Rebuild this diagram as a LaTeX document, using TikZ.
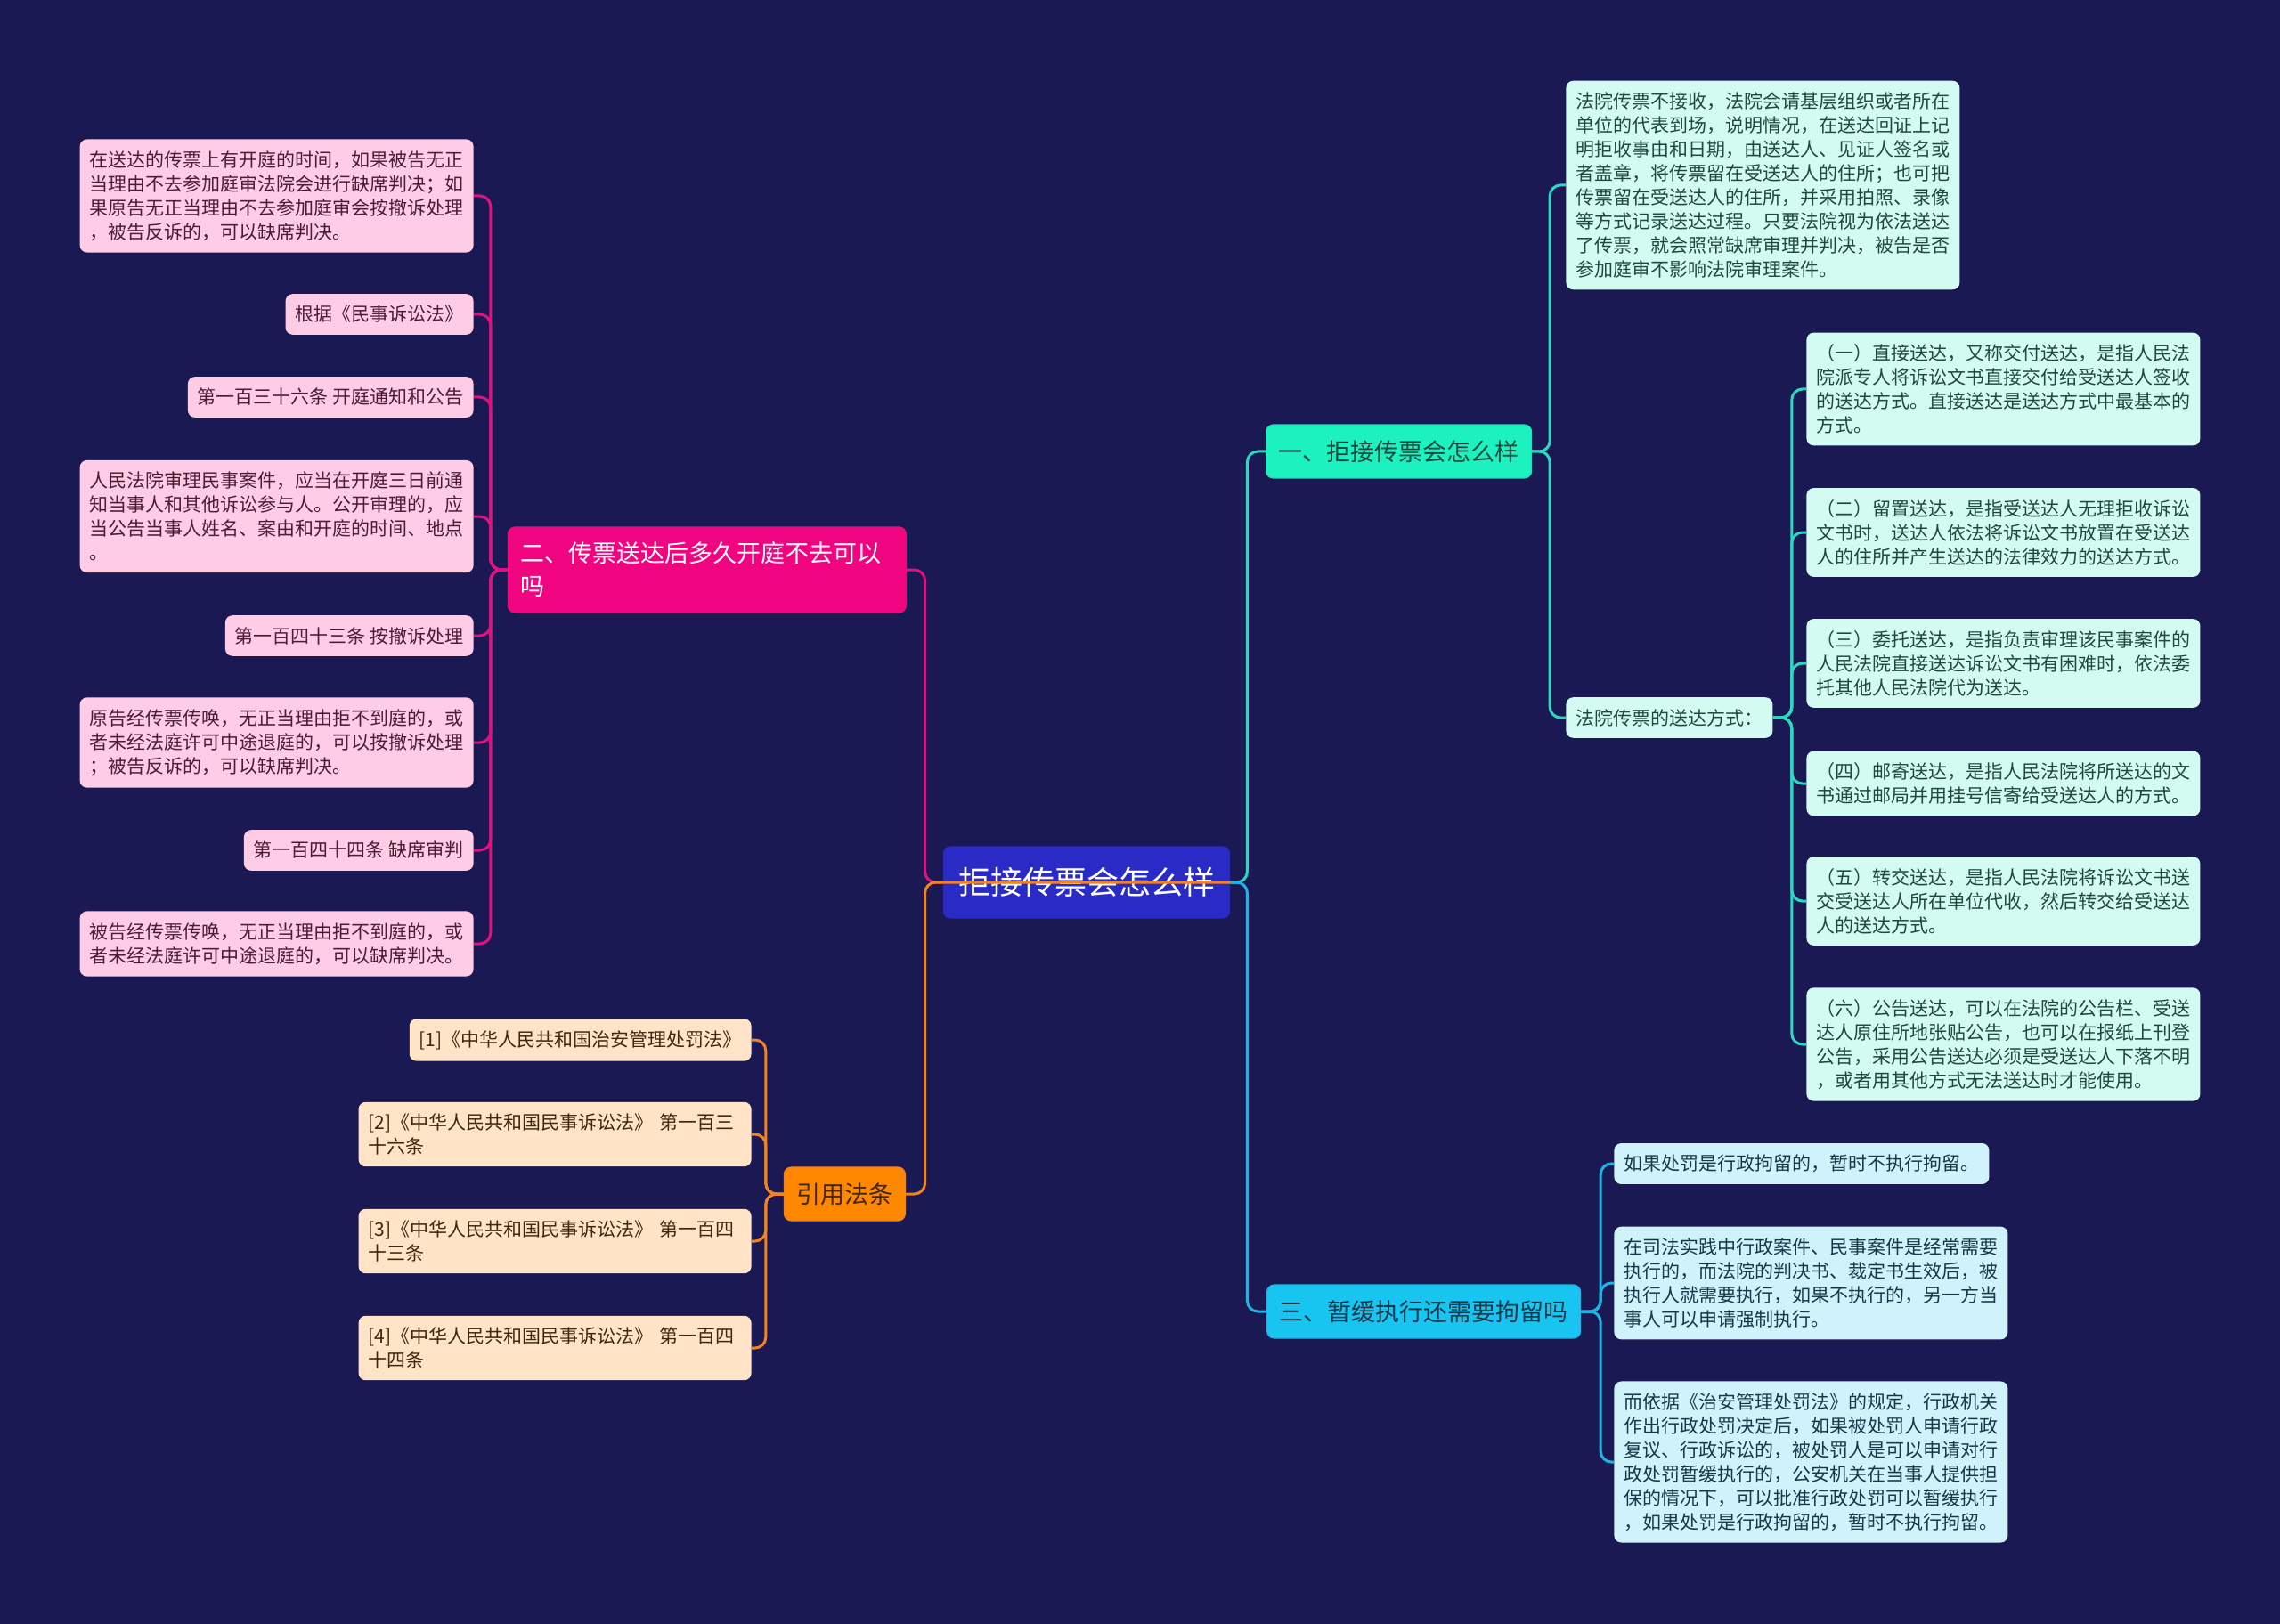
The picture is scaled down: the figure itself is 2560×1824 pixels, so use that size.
\documentclass[tikz,border=0pt]{standalone}
\usepackage{fontspec}
\setmainfont{Noto Sans CJK SC}
\usetikzlibrary{positioning}

\definecolor{bgnavy}{HTML}{1B1953}
\definecolor{rootblue}{HTML}{2A2AC6}
\definecolor{tealfill}{HTML}{1CF2C0}
\definecolor{tealline}{HTML}{2CD9C0}
\definecolor{tealnote}{HTML}{D4FBF2}
\definecolor{tealtext}{HTML}{1D4A40}
\definecolor{pinkfill}{HTML}{F0047F}
\definecolor{pinkline}{HTML}{E0137E}
\definecolor{pinknote}{HTML}{FFCCE5}
\definecolor{pinktext}{HTML}{4A1D33}
\definecolor{cyanfill}{HTML}{18C5F0}
\definecolor{cyanline}{HTML}{1FB5E6}
\definecolor{cyannote}{HTML}{D0F2FB}
\definecolor{cyantext}{HTML}{17384A}
\definecolor{orangefill}{HTML}{FF8800}
\definecolor{orangeline}{HTML}{F2831F}
\definecolor{orangenote}{HTML}{FFE4C8}
\definecolor{orangetext}{HTML}{3D2810}

\tikzset{
  rootbox/.style={fill=rootblue, text=white, rounded corners=4pt, inner xsep=8.5pt, inner ysep=12pt, font=\fontsize{18}{22}\selectfont},
  branch/.style={rounded corners=4pt, inner xsep=7pt, inner ysep=8.75pt, align=left, line width=0.6pt, font=\fontsize{13.5}{18.5}\selectfont},
  note/.style={rounded corners=4pt, inner xsep=5.5pt, inner ysep=6.5pt, align=left, font=\fontsize{10.5}{13.5}\selectfont},
  pinkbox/.style={note, fill=pinknote, text=pinktext},
  tealbox/.style={note, fill=tealnote, text=tealtext},
  cyanbox/.style={note, fill=cyannote, text=cyantext},
  orangebox/.style={note, fill=orangenote, text=orangetext},
  link/.style={line width=1.5pt, rounded corners=6pt},
}

\begin{document}
\begin{tikzpicture}[x=0.5pt, y=-0.5pt]
    \fill[bgnavy] (0,0) rectangle (2560,1824);
    \useasboundingbox (0,0) rectangle (2560,1824);

    % centre and main branches
    \node [rootbox] (root) at (1220,991) {拒接传票会怎么样};
    \node [branch, fill=tealfill, draw=tealline, text=tealtext, anchor=west] (b1) at (1421,507) {一、拒接传票会怎么样};
    \node [branch, fill=pinkfill, draw=pinkline, text=white, text width=209.5pt, inner ysep=8.5pt, anchor=east] (b2) at (1018,640) {二、传票送达后多久开庭不去可以\\吗};
    \node [branch, fill=cyanfill, draw=cyanline, text=cyantext, anchor=west] (b3) at (1422,1473) {三、暂缓执行还需要拘留吗};
    \node [branch, fill=orangefill, draw=orangeline, text=orangetext, anchor=east] (b4) at (1017,1341) {引用法条};

    % branch one
    \node [tealbox, anchor=west] (t0) at (1758,208) {法院传票不接收，法院会请基层组织或者所在\\单位的代表到场，说明情况，在送达回证上记\\明拒收事由和日期，由送达人、见证人签名或\\者盖章，将传票留在受送达人的住所；也可把\\传票留在受送达人的住所，并采用拍照、录像\\等方式记录送达过程。只要法院视为依法送达\\了传票，就会照常缺席审理并判决，被告是否\\参加庭审不影响法院审理案件。};
    \node [tealbox, anchor=west] (t1) at (1758,806) {法院传票的送达方式：};
    \node [tealbox, anchor=west] (s1) at (2028,437) {（一）直接送达，又称交付送达，是指人民法\\院派专人将诉讼文书直接交付给受送达人签收\\的送达方式。直接送达是送达方式中最基本的\\方式。};
    \node [tealbox, anchor=west] (s2) at (2028,598) {（二）留置送达，是指受送达人无理拒收诉讼\\文书时，送达人依法将诉讼文书放置在受送达\\人的住所并产生送达的法律效力的送达方式。};
    \node [tealbox, anchor=west] (s3) at (2028,745) {（三）委托送达，是指负责审理该民事案件的\\人民法院直接送达诉讼文书有困难时，依法委\\托其他人民法院代为送达。};
    \node [tealbox, anchor=west] (s4) at (2028,880) {（四）邮寄送达，是指人民法院将所送达的文\\书通过邮局并用挂号信寄给受送达人的方式。};
    \node [tealbox, anchor=west] (s5) at (2028,1012) {（五）转交送达，是指人民法院将诉讼文书送\\交受送达人所在单位代收，然后转交给受送达\\人的送达方式。};
    \node [tealbox, anchor=west] (s6) at (2028,1173) {（六）公告送达，可以在法院的公告栏、受送\\达人原住所地张贴公告，也可以在报纸上刊登\\公告，采用公告送达必须是受送达人下落不明\\，或者用其他方式无法送达时才能使用。};

    % branch two
    \node [pinkbox, anchor=east] (p1) at (532,220) {在送达的传票上有开庭的时间，如果被告无正\\当理由不去参加庭审法院会进行缺席判决；如\\果原告无正当理由不去参加庭审会按撤诉处理\\，被告反诉的，可以缺席判决。};
    \node [pinkbox, anchor=east] (p2) at (532,353) {根据《民事诉讼法》};
    \node [pinkbox, anchor=east] (p3) at (532,446) {第一百三十六条 开庭通知和公告};
    \node [pinkbox, anchor=east] (p4) at (532,580) {人民法院审理民事案件，应当在开庭三日前通\\知当事人和其他诉讼参与人。公开审理的，应\\当公告当事人姓名、案由和开庭的时间、地点\\。};
    \node [pinkbox, anchor=east] (p5) at (532,714) {第一百四十三条 按撤诉处理};
    \node [pinkbox, anchor=east] (p6) at (532,834) {原告经传票传唤，无正当理由拒不到庭的，或\\者未经法庭许可中途退庭的，可以按撤诉处理\\；被告反诉的，可以缺席判决。};
    \node [pinkbox, anchor=east] (p7) at (532,955) {第一百四十四条 缺席审判};
    \node [pinkbox, anchor=east] (p8) at (532,1060) {被告经传票传唤，无正当理由拒不到庭的，或\\者未经法庭许可中途退庭的，可以缺席判决。};

    % branch three
    \node [cyanbox, anchor=west] (c1) at (1812,1307) {如果处罚是行政拘留的，暂时不执行拘留。};
    \node [cyanbox, anchor=west] (c2) at (1812,1441) {在司法实践中行政案件、民事案件是经常需要\\执行的，而法院的判决书、裁定书生效后，被\\执行人就需要执行，如果不执行的，另一方当\\事人可以申请强制执行。};
    \node [cyanbox, anchor=west] (c3) at (1812,1642) {而依据《治安管理处罚法》的规定，行政机关\\作出行政处罚决定后，如果被处罚人申请行政\\复议、行政诉讼的，被处罚人是可以申请对行\\政处罚暂缓执行的，公安机关在当事人提供担\\保的情况下，可以批准行政处罚可以暂缓执行\\，如果处罚是行政拘留的，暂时不执行拘留。};

    % branch four
    \node [orangebox, anchor=east] (o1) at (844,1168) {[1]《中华人民共和国治安管理处罚法》};
    \node [orangebox, text width=209.5pt, anchor=east] (o2) at (844,1274) {[2]《中华人民共和国民事诉讼法》 第一百三\\十六条};
    \node [orangebox, text width=209.5pt, anchor=east] (o3) at (844,1394) {[3]《中华人民共和国民事诉讼法》 第一百四\\十三条};
    \node [orangebox, text width=209.5pt, anchor=east] (o4) at (844,1514) {[4]《中华人民共和国民事诉讼法》 第一百四\\十四条};

    % connectors
    \draw [link, tealline] (root.east) -- ++(19,0) |- (b1.west);
    \draw [link, cyanline] (root.east) -- ++(19,0) |- (b3.west);
    \draw [link, pinkline] (root.west) -- ++(-20,0) |- (b2.east);
    \draw [link, orangeline] (root.east) -- (root.west) -- ++(-20,0) |- (b4.east);
    \foreach \n in {t0,t1}
        \draw [link, tealline] (b1.east) -- ++(20,0) |- (\n.west);
    \foreach \n in {s1,s2,s3,s4,s5,s6}
        \draw [link, tealline] (t1.east) -- ++(21,0) |- (\n.west);
    \foreach \n in {p1,p2,p3,p4,p5,p6,p7,p8}
        \draw [link, pinkline] (b2.west) -- ++(-19,0) |- (\n.east);
    \foreach \n in {c1,c2,c3}
        \draw [link, cyanline] (b3.east) -- ++(22,0) |- (\n.west);
    \foreach \n in {o1,o2,o3,o4}
        \draw [link, orangeline] (b4.west) -- ++(-20,0) |- (\n.east);
\end{tikzpicture}
\end{document}
